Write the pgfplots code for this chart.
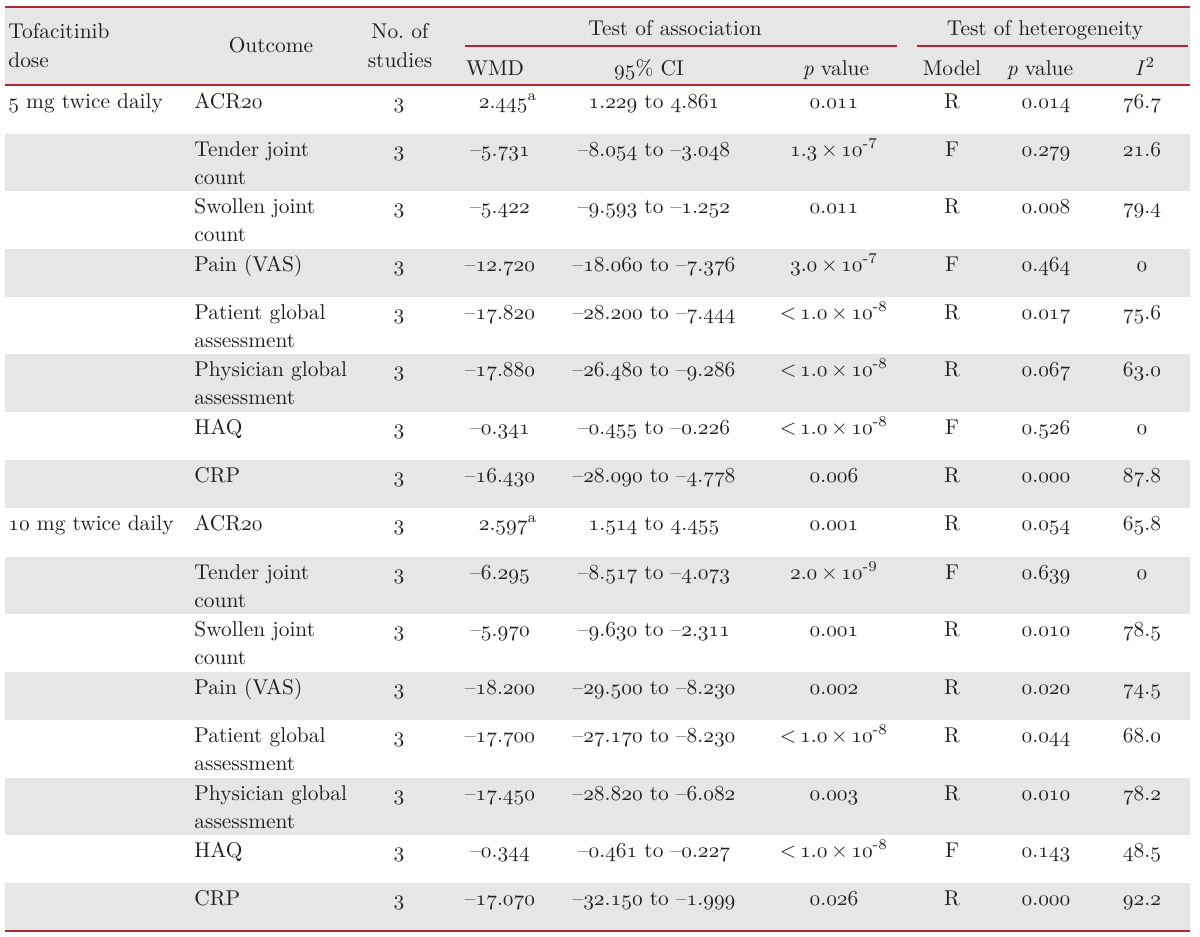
\RequirePackage{fix-cm}
\documentclass[border=0pt]{standalone}
\usepackage{pgfplots}
\pgfplotsset{compat=1.18}
\definecolor{tred}{RGB}{178,38,50}
\definecolor{tgray}{RGB}{230,230,230}
\definecolor{textc}{RGB}{35,31,32}
\newcommand{\tabfont}{\fontsize{10.7}{13}\selectfont}
\newcommand{\os}[1]{$\mathnormal{#1}$}
\newcommand{\m}[1]{\textendash\os{#1}}
\newcommand{\sci}[2]{\os{#1}\,$\times$\,\os{10}\textsuperscript{-#2}}
\newcommand{\lt}{<\,}
\tikzset{cc/.style={anchor=base,inner sep=0pt,font=\tabfont,text=textc},
         cl/.style={anchor=base west,inner sep=0pt,font=\tabfont,text=textc}}
% one data row: baseline, WMD, CI, p, model, p(het), I2
\newcommand{\datarow}[7]{%
  \node[cc] at (axis cs:399,#1) {\os{3}};
  \node[cc] at (axis cs:500,#1) {#2};
  \node[cc] at (axis cs:654,#1) {#3};
  \node[cc] at (axis cs:834,#1) {#4};
  \node[cc] at (axis cs:952,#1) {#5};
  \node[cc] at (axis cs:1046,#1) {#6};
  \node[cc] at (axis cs:1142,#1) {#7};}
\newcommand{\band}[2]{\addplot[fill=tgray,draw=none,mark=none] coordinates {(5,#1) (1190,#1) (1190,#2) (5,#2)} -- cycle;}
\begin{document}
\begin{tikzpicture}
\begin{axis}[width=600pt,height=468.5pt,scale only axis,hide axis,
  xmin=0,xmax=1200,ymin=0,ymax=937,y dir=reverse,clip=false,enlargelimits=false]
\path (axis cs:0,0) rectangle (axis cs:1200,937);
% header and shaded rows
\band{7}{85}
\band{134}{191}
\band{249}{297}
\band{354}{412}
\band{460}{508}
\band{557}{614}
\band{672}{720}
\band{778}{835}
\band{883}{931}
% rules
\addplot[tred,line width=0.9pt,mark=none] coordinates {(5,7) (1190,7)};
\addplot[tred,line width=0.9pt,mark=none] coordinates {(465,46) (897,46)};
\addplot[tred,line width=0.9pt,mark=none] coordinates {(917,46) (1188,46)};
\addplot[tred,line width=0.9pt,mark=none] coordinates {(5,85) (1190,85)};
\addplot[tred,line width=0.9pt,mark=none] coordinates {(5,931) (1190,931)};
% header
\node[cl] at (axis cs:8,39) {Tofacitinib};
\node[cl] at (axis cs:8,67) {dose};
\node[cc] at (axis cs:271,53) {Outcome};
\node[cc] at (axis cs:400,39) {No.\ of};
\node[cc] at (axis cs:400,67) {studies};
\node[cc] at (axis cs:675,35) {Test of association};
\node[cc] at (axis cs:1045,35) {Test of heterogeneity};
\node[cc] at (axis cs:495,75) {WMD};
\node[cc] at (axis cs:649,75) {\os{95}\% CI};
\node[cc] at (axis cs:836,75) {\textit{p} value};
\node[cc] at (axis cs:952,75) {Model};
\node[cc] at (axis cs:1040,75) {\textit{p} value};
\node[cc] at (axis cs:1145,75) {\textit{I}\textsuperscript{2}};
% dose column
\node[cl] at (axis cs:8,108) {\os{5} mg twice daily};
\node[cl] at (axis cs:8,530) {\os{10} mg twice daily};
% outcome column
\node[cl] at (axis cs:194,108) {ACR\os{20}};
\node[cl] at (axis cs:194,156) {Tender joint};
\node[cl] at (axis cs:194,184) {count};
\node[cl] at (axis cs:194,213) {Swollen joint};
\node[cl] at (axis cs:194,241) {count};
\node[cl] at (axis cs:194,271) {Pain (VAS)};
\node[cl] at (axis cs:194,319) {Patient global};
\node[cl] at (axis cs:194,347) {assessment};
\node[cl] at (axis cs:194,376) {Physician global};
\node[cl] at (axis cs:194,404) {assessment};
\node[cl] at (axis cs:194,434) {HAQ};
\node[cl] at (axis cs:194,482) {CRP};
\node[cl] at (axis cs:194,530) {ACR\os{20}};
\node[cl] at (axis cs:194,579) {Tender joint};
\node[cl] at (axis cs:194,607) {count};
\node[cl] at (axis cs:194,636) {Swollen joint};
\node[cl] at (axis cs:194,664) {count};
\node[cl] at (axis cs:194,694) {Pain (VAS)};
\node[cl] at (axis cs:194,742) {Patient global};
\node[cl] at (axis cs:194,770) {assessment};
\node[cl] at (axis cs:194,800) {Physician global};
\node[cl] at (axis cs:194,828) {assessment};
\node[cl] at (axis cs:194,857) {HAQ};
\node[cl] at (axis cs:194,905) {CRP};
% data
\datarow{108}{\hspace*{8pt}\os{2.445}\textsuperscript{a}}{\os{1.229} to \os{4.861}}{\os{0.011}}{R}{\os{0.014}}{\os{76.7}}
\datarow{156}{\m{5.731}}{\m{8.054} to \m{3.048}}{\sci{1.3}{7}}{F}{\os{0.279}}{\os{21.6}}
\datarow{213}{\m{5.422}}{\m{9.593} to \m{1.252}}{\os{0.011}}{R}{\os{0.008}}{\os{79.4}}
\datarow{271}{\m{12.720}}{\m{18.060} to \m{7.376}}{\sci{3.0}{7}}{F}{\os{0.464}}{\os{0}}
\datarow{319}{\m{17.820}}{\m{28.200} to \m{7.444}}{\lt\sci{1.0}{8}}{R}{\os{0.017}}{\os{75.6}}
\datarow{376}{\m{17.880}}{\m{26.480} to \m{9.286}}{\lt\sci{1.0}{8}}{R}{\os{0.067}}{\os{63.0}}
\datarow{434}{\m{0.341}}{\m{0.455} to \m{0.226}}{\lt\sci{1.0}{8}}{F}{\os{0.526}}{\os{0}}
\datarow{482}{\m{16.430}}{\m{28.090} to \m{4.778}}{\os{0.006}}{R}{\os{0.000}}{\os{87.8}}
\datarow{530}{\hspace*{8pt}\os{2.597}\textsuperscript{a}}{\os{1.514} to \os{4.455}}{\os{0.001}}{R}{\os{0.054}}{\os{65.8}}
\datarow{579}{\m{6.295}}{\m{8.517} to \m{4.073}}{\sci{2.0}{9}}{F}{\os{0.639}}{\os{0}}
\datarow{636}{\m{5.970}}{\m{9.630} to \m{2.311}}{\os{0.001}}{R}{\os{0.010}}{\os{78.5}}
\datarow{694}{\m{18.200}}{\m{29.500} to \m{8.230}}{\os{0.002}}{R}{\os{0.020}}{\os{74.5}}
\datarow{742}{\m{17.700}}{\m{27.170} to \m{8.230}}{\lt\sci{1.0}{8}}{R}{\os{0.044}}{\os{68.0}}
\datarow{800}{\m{17.450}}{\m{28.820} to \m{6.082}}{\os{0.003}}{R}{\os{0.010}}{\os{78.2}}
\datarow{857}{\m{0.344}}{\m{0.461} to \m{0.227}}{\lt\sci{1.0}{8}}{F}{\os{0.143}}{\os{48.5}}
\datarow{905}{\m{17.070}}{\m{32.150} to \m{1.999}}{\os{0.026}}{R}{\os{0.000}}{\os{92.2}}
\end{axis}
\end{tikzpicture}
\end{document}
